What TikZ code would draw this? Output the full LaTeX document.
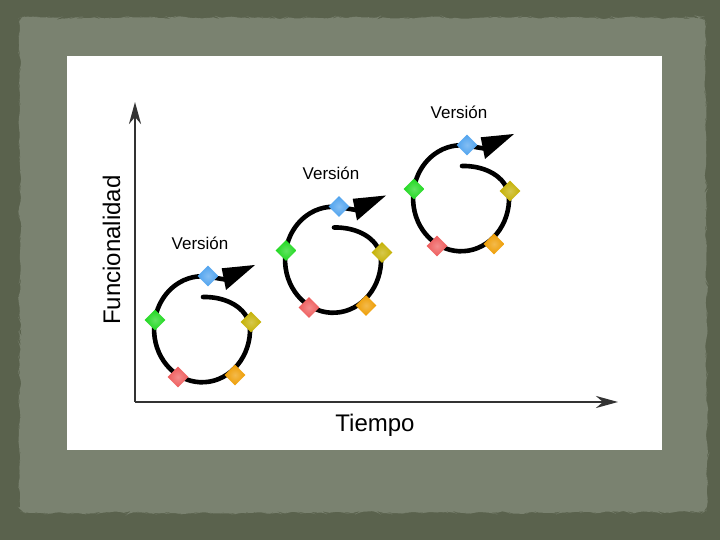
\documentclass[tikz,border=0pt]{standalone}
\usepackage{fontspec}
\setmainfont{Liberation Sans}
\usetikzlibrary{arrows.meta,decorations.pathmorphing,shapes.geometric}
\definecolor{outerbg}{HTML}{5A624D}
\definecolor{innerbg}{HTML}{7A8270}
\definecolor{axisgray}{HTML}{333333}
\definecolor{dgreen}{HTML}{1ED81E}
\definecolor{dblue}{HTML}{4EA2EE}
\definecolor{dyellow}{HTML}{C4B000}
\definecolor{dorange}{HTML}{EE9C00}
\definecolor{dred}{HTML}{EE5A5A}
\tikzset{
  axisline/.style={draw=axisgray, line width=2.6pt, -{Stealth[length=22pt,width=12pt,inset=7pt]}},
  loopline/.style={draw=black, line width=4.6pt, line cap=round},
  gem/.style={diamond, minimum width=21pt, minimum height=21pt, inner sep=0pt,
    shading=radial, inner color=#1!70!white, outer color=#1, draw=none},
  vlabel/.style={font=\fontsize{17}{20}\selectfont, anchor=base},
  axlabel/.style={font=\fontsize{24}{28}\selectfont},
  versionloop/.pic={
    \draw[loopline] (1,32.5) .. controls (24,33) and (45,22) .. (48,3)
      arc[start angle=3, end angle=-280, x radius=48, y radius=53] -- (23,50);
    \fill[black] (19.7,61.2) -- (53,64.5) -- (24,39.5) -- cycle;
    \node[gem=dblue] (b) at (6,53.5) {};
    \node[gem=dyellow] (y) at (49,7.5) {};
    \node[gem=dorange] (o) at (33,-45.5) {};
    \node[gem=dred] (r) at (-24,-47.5) {};
    \node[gem=dgreen] (g) at (-47,9.5) {};
    \node[vlabel] (v) at (-2,80) {Versión};
  }
}
\begin{document}
\begin{tikzpicture}[x=1pt,y=1pt]
\pgfmathsetseed{7}
\useasboundingbox (0,0) rectangle (720,540);
\fill[outerbg] (0,0) rectangle (720,540);
\fill[innerbg, decorate, decoration={random steps, segment length=5pt, amplitude=1.6pt}, rounded corners=6pt]
  (20,27) -- (20,522) -- (705,522) -- (707,28) -- cycle;
\fill[white] (67,90) rectangle (662,484);
% axes
\coordinate (O) at (135,138);
\coordinate (Yt) at (135,438);
\coordinate (Xt) at (618,138);
\draw[axisline] (O) -- (Yt);
\draw[axisline] (O) -- (Xt);
\node[axlabel, rotate=90, anchor=base] (fun) at (120,290) {Funcionalidad};
\node[axlabel, anchor=base] (tie) at (375,108) {Tiempo};
% loops
\pic (c1) at (202,210.5) {versionloop};
\pic (c2) at (333,280) {versionloop};
\pic (c3) at (461,341.5) {versionloop};
\end{tikzpicture}
\end{document}
